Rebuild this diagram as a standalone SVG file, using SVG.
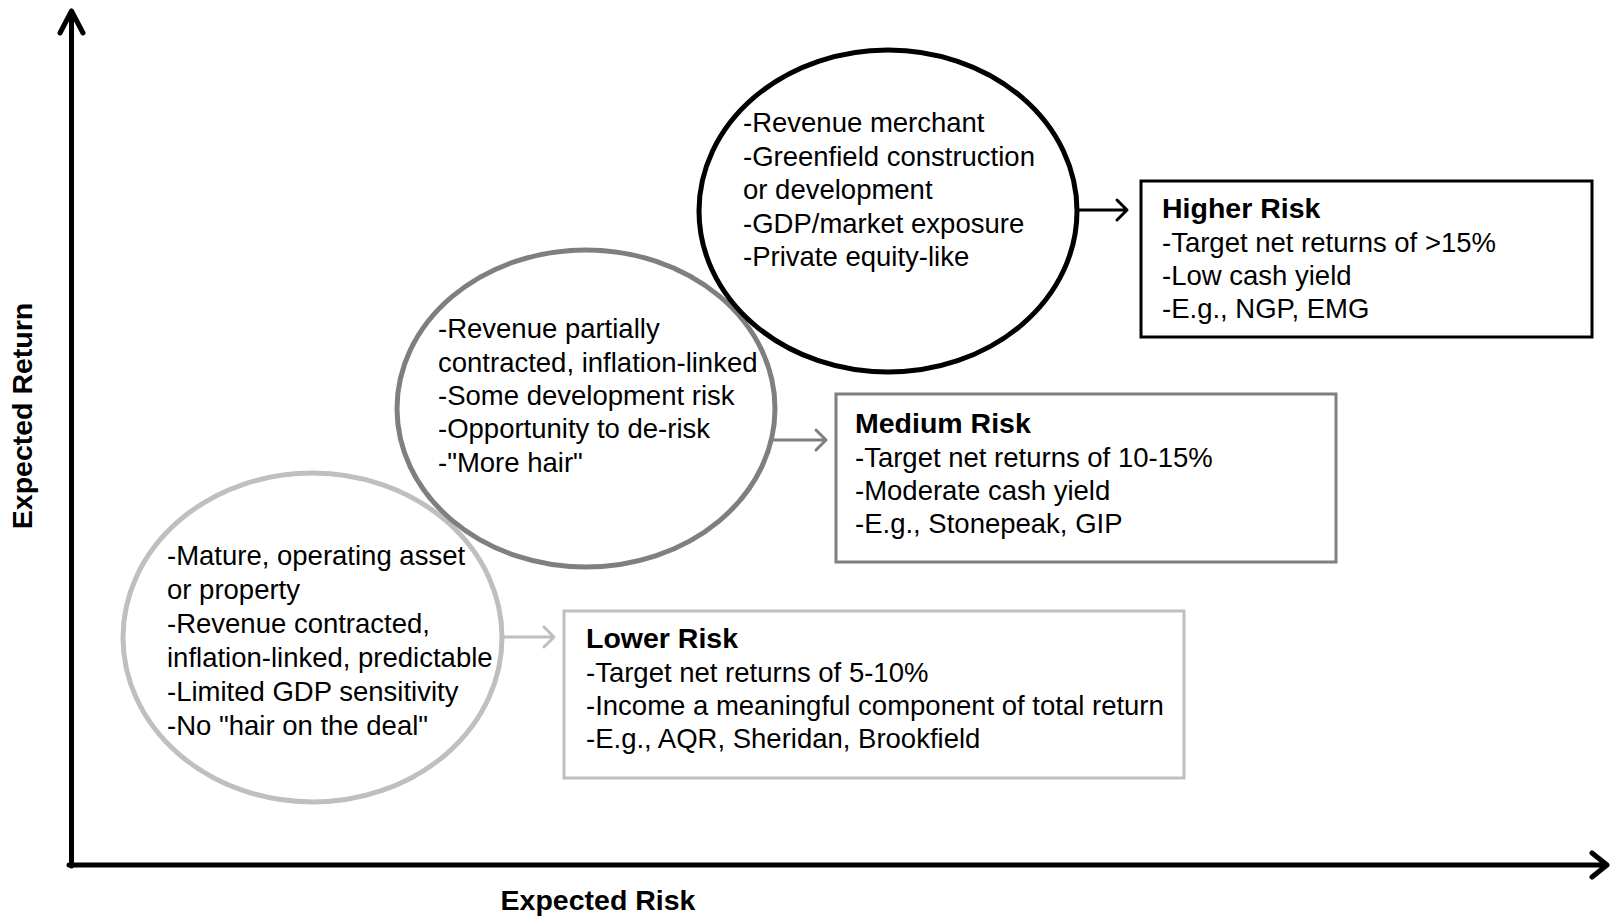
<svg xmlns="http://www.w3.org/2000/svg" width="1611" height="920" viewBox="0 0 1611 920">
<style>
text{font-family:"Liberation Sans",Arial,sans-serif;font-size:27.5px;fill:#000}
.h{font-weight:bold;font-size:28.5px}
.ax{font-weight:bold;font-size:28.5px}
.ell{fill:none;stroke-width:5}
.box{fill:#fff;stroke-width:3}
.k{stroke:#000}
.g{stroke:#7f7f7f}
.lg{stroke:#bfbfbf}
.con{fill:none;stroke-width:3;stroke-linecap:round;stroke-linejoin:round}
.axis{fill:none;stroke:#000;stroke-width:5;stroke-linecap:round;stroke-linejoin:round}
</style>
<rect width="1611" height="920" fill="#fff"/>
<g id="axes">
<path class="axis" d="M71.5 866 V11 M60 33 L71.5 11 L83 33"/>
<path class="axis" d="M69 865 H1607 M1592 853 L1607 865 L1592 877"/>
<text class="ax" text-anchor="middle" transform="translate(32,416) rotate(-90)">Expected Return</text>
<text class="ax" text-anchor="middle" x="598" y="910">Expected Risk</text>
</g>
<g id="low-ellipse">
<ellipse class="ell lg" cx="312.5" cy="637.5" rx="189.5" ry="164.5"/>
<text><tspan x="167" y="565">-Mature, operating asset</tspan><tspan x="167" y="599">or property</tspan><tspan x="167" y="633">-Revenue contracted,</tspan><tspan x="167" y="667">inflation-linked, predictable</tspan><tspan x="167" y="701">-Limited GDP sensitivity</tspan><tspan x="167" y="735">-No "hair on the deal"</tspan></text>
</g>
<g id="medium-ellipse">
<ellipse class="ell g" cx="586" cy="408.5" rx="189" ry="158.5"/>
<text><tspan x="438" y="338">-Revenue partially</tspan><tspan x="438" y="372">contracted, inflation-linked</tspan><tspan x="438" y="405">-Some development risk</tspan><tspan x="438" y="438">-Opportunity to de-risk</tspan><tspan x="438" y="472">-"More hair"</tspan></text>
</g>
<g id="high-ellipse">
<ellipse class="ell k" cx="888" cy="211" rx="189" ry="161"/>
<text><tspan x="743" y="132">-Revenue merchant</tspan><tspan x="743" y="165.5">-Greenfield construction</tspan><tspan x="743" y="199">or development</tspan><tspan x="743" y="232.5">-GDP/market exposure</tspan><tspan x="743" y="266">-Private equity-like</tspan></text>
</g>
<g id="higher-risk">
<rect class="box k" x="1141" y="181" width="451" height="156"/>
<text><tspan class="h" x="1162" y="218">Higher Risk</tspan><tspan x="1162" y="252">-Target net returns of &gt;15%</tspan><tspan x="1162" y="285">-Low cash yield</tspan><tspan x="1162" y="318">-E.g., NGP, EMG</tspan></text>
</g>
<g id="medium-risk">
<rect class="box g" x="836" y="394" width="500" height="168"/>
<text><tspan class="h" x="855" y="433">Medium Risk</tspan><tspan x="855" y="467">-Target net returns of 10-15%</tspan><tspan x="855" y="500">-Moderate cash yield</tspan><tspan x="855" y="533">-E.g., Stonepeak, GIP</tspan></text>
</g>
<g id="lower-risk">
<rect class="box lg" x="564" y="611" width="620" height="167"/>
<text><tspan class="h" x="586" y="648">Lower Risk</tspan><tspan x="586" y="682">-Target net returns of 5-10%</tspan><tspan x="586" y="715">-Income a meaningful component of total return</tspan><tspan x="586" y="748">-E.g., AQR, Sheridan, Brookfield</tspan></text>
</g>
<g id="connectors">
<path class="con k" d="M1078 210 H1127 M1117 200 L1127 210 L1117 220"/>
<path class="con g" d="M772 440 H826 M816 430 L826 440 L816 450"/>
<path class="con lg" d="M503 637 H554 M544 627 L554 637 L544 647"/>
</g>
</svg>
